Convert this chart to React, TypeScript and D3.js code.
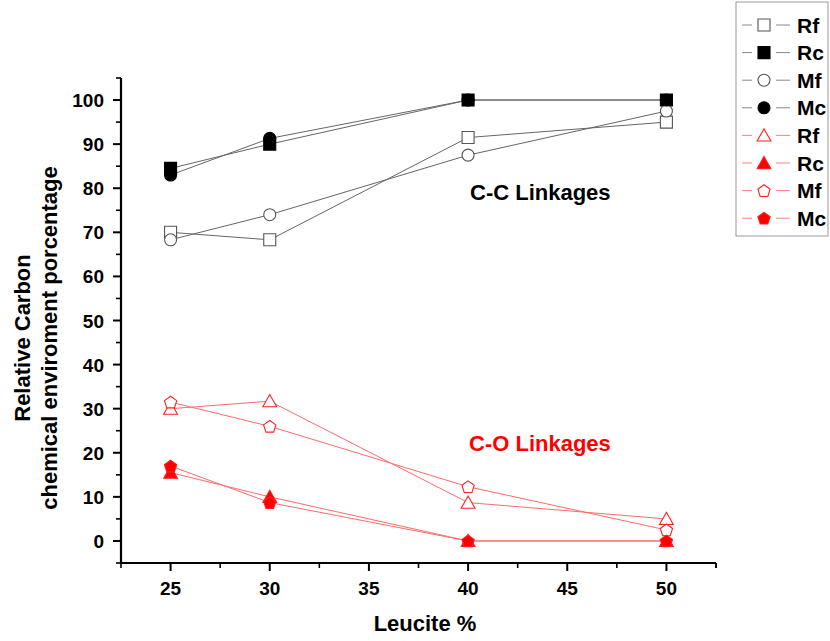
import React from "react";
import * as d3 from "d3";

// Leucite content (%)
const leucite = [25, 30, 40, 50];

// C-C linkages (black series)
const ccRf = [70, 68.3, 91.5, 95];
const ccRc = [84.5, 90, 100, 100];
const ccMf = [68.3, 74, 87.5, 97.5];
const ccMc = [83, 91.3, 100, 100];

// C-O linkages (red series)
const coRf = [30, 31.7, 8.7, 5];
const coRc = [15.5, 10, 0, 0];
const coMf = [31.5, 26, 12.3, 2.5];
const coMc = [17, 8.7, 0, 0];

const xTicks = [25, 30, 35, 40, 45, 50];
const yTicks = [0, 10, 20, 30, 40, 50, 60, 70, 80, 90, 100];

type Shape = "square" | "circle" | "triangle" | "pentagon";
interface Series {
  name: string;
  values: number[];
  shape: Shape;
  filled: boolean;
  group: "cc" | "co";
}

const series: Series[] = [
  { name: "Rf", values: ccRf, shape: "square", filled: false, group: "cc" },
  { name: "Rc", values: ccRc, shape: "square", filled: true, group: "cc" },
  { name: "Mf", values: ccMf, shape: "circle", filled: false, group: "cc" },
  { name: "Mc", values: ccMc, shape: "circle", filled: true, group: "cc" },
  { name: "Rf", values: coRf, shape: "triangle", filled: false, group: "co" },
  { name: "Rc", values: coRc, shape: "triangle", filled: true, group: "co" },
  { name: "Mf", values: coMf, shape: "pentagon", filled: false, group: "co" },
  { name: "Mc", values: coMc, shape: "pentagon", filled: true, group: "co" },
];

const W = 830;
const H = 641;
const plot = { left: 121, right: 716, top: 78, bottom: 563 };

const x = d3.scaleLinear().domain([22.5, 52.5]).range([plot.left, plot.right]);
const y = d3.scaleLinear().domain([-5, 105]).range([plot.bottom, plot.top]);

const FONT = "'Liberation Sans', Arial, sans-serif";

function markerPath(shape: Shape): string {
  const r = 6;
  if (shape === "square") {
    return `M${-r},${-r}H${r}V${r}H${-r}Z`;
  }
  if (shape === "circle") {
    return d3.symbol(d3.symbolCircle, Math.PI * r * r)() as string;
  }
  if (shape === "triangle") {
    const h = r * 1.1;
    return `M0,${-h}L${r * 1.15},${h * 0.85}L${-r * 1.15},${h * 0.85}Z`;
  }
  // pentagon
  const pts: string[] = [];
  const rr = r * 1.08;
  for (let i = 0; i < 5; i++) {
    const a = -Math.PI / 2 + (i * 2 * Math.PI) / 5;
    pts.push(`${(rr * Math.cos(a)).toFixed(2)},${(rr * Math.sin(a) + 0.6).toFixed(2)}`);
  }
  return `M${pts.join("L")}Z`;
}

function colors(s: Series) {
  if (s.group === "cc") {
    return {
      line: "#666",
      stroke: s.filled ? "#000" : "#555",
      fill: s.filled ? "#000" : "#fff",
    };
  }
  return {
    line: "#ff6b6b",
    stroke: "#ff2020",
    fill: s.filled ? "#ff0000" : "#fff",
  };
}

function Marker({ s, cx, cy }: { s: Series; cx: number; cy: number }) {
  const c = colors(s);
  return (
    <path
      d={markerPath(s.shape)}
      transform={`translate(${cx},${cy})`}
      fill={c.fill}
      stroke={c.stroke}
      strokeWidth={1.1}
    />
  );
}

export default function App() {
  const line = d3
    .line<number>()
    .x((_, i) => x(leucite[i]))
    .y((v) => y(v));

  const yMinor = d3.range(-5, 106, 5).filter((v) => v % 10 !== 0);
  const xMinor = d3.range(22.5, 53, 2.5).filter((v) => v % 5 !== 0);

  const legendY0 = 25;
  const legendStep = 27.6;

  return (
    <svg width={W} height={H} style={{ position: "absolute", left: 0, top: 0, background: "#fff" }} fontFamily={FONT}>
      <rect x={0} y={0} width={W} height={H} fill="#fff" />

      {/* series lines */}
      {series.map((s, i) => (
        <path key={`l${i}`} d={line(s.values) as string} fill="none" stroke={colors(s).line} strokeWidth={1} />
      ))}

      {/* markers */}
      {series.map((s, i) =>
        s.values.map((v, j) => <Marker key={`m${i}-${j}`} s={s} cx={x(leucite[j])} cy={y(v)} />)
      )}

      {/* y axis */}
      <line x1={plot.left} x2={plot.left} y1={plot.top} y2={plot.bottom} stroke="#000" strokeWidth={2.2} />
      {yTicks.map((t) => (
        <g key={`yt${t}`}>
          <line x1={plot.left - 8} x2={plot.left} y1={y(t)} y2={y(t)} stroke="#000" strokeWidth={2} />
          <text x={plot.left - 17} y={y(t) + 7} textAnchor="end" fontSize={19} fontWeight="bold">
            {t}
          </text>
        </g>
      ))}
      {yMinor.map((t) => (
        <line key={`ym${t}`} x1={plot.left - 5} x2={plot.left} y1={y(t)} y2={y(t)} stroke="#000" strokeWidth={1.6} />
      ))}

      {/* x axis */}
      <line x1={plot.left - 1} x2={plot.right} y1={plot.bottom} y2={plot.bottom} stroke="#000" strokeWidth={2.2} />
      {xTicks.map((t) => (
        <g key={`xt${t}`}>
          <line x1={x(t)} x2={x(t)} y1={plot.bottom} y2={plot.bottom + 8} stroke="#000" strokeWidth={2} />
          <text x={x(t)} y={595} textAnchor="middle" fontSize={19} fontWeight="bold">
            {t}
          </text>
        </g>
      ))}
      {[...xMinor, 52.5].map((t) => (
        <line key={`xm${t}`} x1={x(t)} x2={x(t)} y1={plot.bottom} y2={plot.bottom + 5} stroke="#000" strokeWidth={1.6} />
      ))}

      {/* axis titles */}
      <text x={425} y={631} textAnchor="middle" fontSize={22} fontWeight="bold">
        Leucite %
      </text>
      <g transform={`translate(0,338) rotate(-90)`}>
        <text x={0} y={30} textAnchor="middle" fontSize={22} fontWeight="bold">
          Relative Carbon
        </text>
        <text x={0} y={57} textAnchor="middle" fontSize={22} fontWeight="bold">
          chemical enviroment porcentage
        </text>
      </g>

      {/* annotations */}
      <text x={470} y={200} fontSize={22} fontWeight="bold" fill="#000">
        C-C Linkages
      </text>
      <text x={469} y={451} fontSize={22} fontWeight="bold" fill="#ff0000">
        C-O Linkages
      </text>

      {/* legend */}
      <rect x={736} y={2} width={92} height={234} fill="#fff" stroke="#999" strokeWidth={1} />
      {series.map((s, i) => {
        const ly = legendY0 + i * legendStep;
        const lc = s.group === "cc" ? "#888" : "#ff8080";
        return (
          <g key={`lg${i}`}>
            <line x1={742} x2={752} y1={ly} y2={ly} stroke={lc} strokeWidth={1} />
            <line x1={776} x2={790} y1={ly} y2={ly} stroke={lc} strokeWidth={1} />
            <Marker s={s} cx={764} cy={ly} />
            <text x={797} y={ly + 7.5} fontSize={21} fontWeight="bold">
              {s.name}
            </text>
          </g>
        );
      })}
    </svg>
  );
}
